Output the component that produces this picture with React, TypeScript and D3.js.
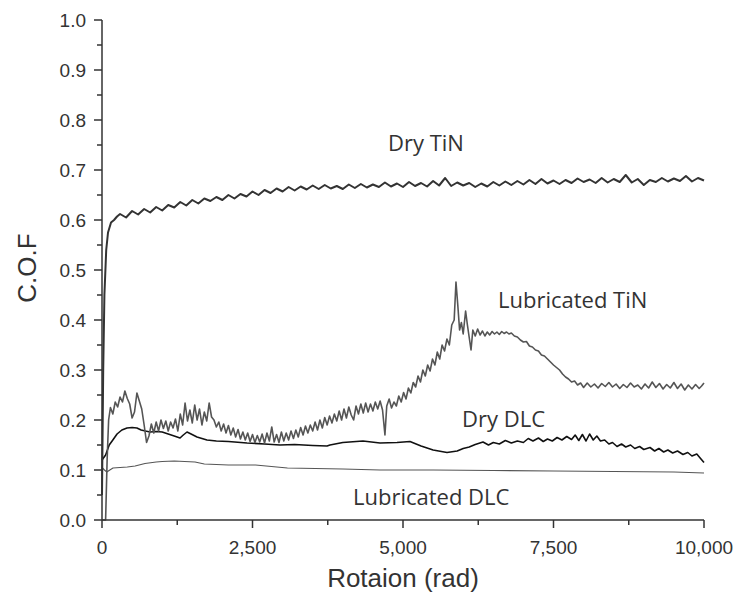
import React from "react";
import * as d3 from "d3";

const yTicks = [0, 0.1, 0.2, 0.3, 0.4, 0.5, 0.6, 0.7, 0.8, 0.9, 1.0];
const xTicks = [0, 2500, 5000, 7500, 10000];
const xMinorTicks = [1250, 3750, 6250, 8750];
const yMinorTicks = [0.05, 0.15, 0.25, 0.35, 0.45, 0.55, 0.65, 0.75, 0.85, 0.95];

const seriesNames = ["Dry TiN", "Lubricated TiN", "Dry DLC", "Lubricated DLC"];

const dryTiN: [number, number][] = [
  [0, 0.05], [20, 0.3], [40, 0.45], [70, 0.54], [100, 0.575], [150, 0.595], [200, 0.6], [250, 0.607],
  [300, 0.612], [400, 0.605], [500, 0.618], [600, 0.611], [700, 0.622], [800, 0.615], [900, 0.626],
  [1000, 0.619], [1100, 0.63], [1200, 0.625], [1300, 0.636], [1400, 0.629], [1500, 0.64], [1600, 0.633],
  [1700, 0.643], [1800, 0.638], [1900, 0.646], [2000, 0.64], [2100, 0.65], [2200, 0.643], [2300, 0.652],
  [2400, 0.647], [2500, 0.657], [2600, 0.65], [2700, 0.66], [2800, 0.654], [2900, 0.663], [3000, 0.657],
  [3100, 0.666], [3200, 0.659], [3300, 0.667], [3400, 0.661], [3500, 0.669], [3600, 0.662], [3700, 0.67],
  [3800, 0.663], [3900, 0.668], [4000, 0.662], [4100, 0.671], [4200, 0.664], [4300, 0.672], [4400, 0.665],
  [4500, 0.671], [4600, 0.666], [4700, 0.675], [4800, 0.667], [4900, 0.673], [5000, 0.666], [5100, 0.676],
  [5200, 0.668], [5300, 0.674], [5400, 0.667], [5500, 0.678], [5600, 0.669], [5700, 0.684], [5800, 0.668],
  [5900, 0.675], [6000, 0.669], [6100, 0.674], [6200, 0.666], [6300, 0.673], [6400, 0.667], [6500, 0.676],
  [6600, 0.669], [6700, 0.677], [6800, 0.67], [6900, 0.678], [7000, 0.671], [7100, 0.68], [7200, 0.672],
  [7300, 0.682], [7400, 0.673], [7500, 0.679], [7600, 0.672], [7700, 0.68], [7800, 0.674], [7900, 0.683],
  [8000, 0.676], [8100, 0.681], [8200, 0.674], [8300, 0.684], [8400, 0.675], [8500, 0.682], [8600, 0.676],
  [8700, 0.69], [8800, 0.675], [8900, 0.682], [9000, 0.67], [9100, 0.68], [9200, 0.676], [9300, 0.684],
  [9400, 0.677], [9500, 0.683], [9600, 0.678], [9700, 0.688], [9800, 0.677], [9900, 0.684], [10000, 0.679],
];

const lubTiN: [number, number][] = [
  [0, 0], [60, 0.0], [85, 0.12], [110, 0.2], [140, 0.225], [180, 0.212], [220, 0.236], [260, 0.226],
  [300, 0.246], [340, 0.236], [380, 0.258], [420, 0.243], [460, 0.232], [500, 0.204], [540, 0.216],
  [580, 0.254], [620, 0.238], [660, 0.222], [700, 0.19], [740, 0.155], [780, 0.168], [820, 0.192],
  [860, 0.174], [900, 0.196], [940, 0.178], [980, 0.2], [1020, 0.183], [1060, 0.198], [1100, 0.178],
  [1140, 0.196], [1180, 0.184], [1220, 0.202], [1260, 0.178], [1300, 0.212], [1340, 0.19], [1380, 0.234],
  [1420, 0.198], [1460, 0.22], [1500, 0.194], [1540, 0.23], [1580, 0.2], [1620, 0.222], [1660, 0.19],
  [1700, 0.216], [1740, 0.198], [1780, 0.234], [1820, 0.206], [1860, 0.2], [1900, 0.186], [1940, 0.196],
  [1980, 0.178], [2020, 0.192], [2060, 0.174], [2100, 0.189], [2140, 0.17], [2180, 0.184], [2220, 0.166],
  [2260, 0.181], [2300, 0.162], [2340, 0.176], [2380, 0.16], [2420, 0.174], [2460, 0.157], [2500, 0.171],
  [2540, 0.155], [2580, 0.169], [2620, 0.156], [2660, 0.172], [2700, 0.154], [2740, 0.174], [2780, 0.158],
  [2820, 0.186], [2860, 0.156], [2900, 0.171], [2940, 0.155], [2980, 0.176], [3020, 0.158], [3060, 0.174],
  [3100, 0.16], [3140, 0.178], [3180, 0.163], [3220, 0.18], [3260, 0.166], [3300, 0.185], [3340, 0.17],
  [3380, 0.188], [3420, 0.174], [3460, 0.19], [3500, 0.178], [3540, 0.196], [3580, 0.18], [3620, 0.2],
  [3660, 0.184], [3700, 0.205], [3740, 0.19], [3780, 0.208], [3820, 0.194], [3860, 0.212], [3900, 0.198],
  [3940, 0.218], [3980, 0.2], [4020, 0.222], [4060, 0.204], [4100, 0.226], [4140, 0.21], [4180, 0.2],
  [4220, 0.228], [4260, 0.212], [4300, 0.232], [4340, 0.214], [4380, 0.234], [4420, 0.216], [4460, 0.232],
  [4500, 0.218], [4540, 0.236], [4580, 0.222], [4620, 0.238], [4660, 0.22], [4700, 0.17], [4730, 0.228],
  [4770, 0.242], [4810, 0.224], [4850, 0.236], [4890, 0.228], [4930, 0.248], [4970, 0.236], [5010, 0.255],
  [5050, 0.242], [5090, 0.264], [5130, 0.254], [5170, 0.275], [5210, 0.266], [5250, 0.288], [5290, 0.276],
  [5330, 0.3], [5370, 0.288], [5410, 0.31], [5450, 0.298], [5490, 0.322], [5530, 0.31], [5570, 0.336],
  [5610, 0.322], [5650, 0.35], [5690, 0.338], [5730, 0.362], [5770, 0.35], [5810, 0.39], [5850, 0.4],
  [5880, 0.476], [5910, 0.43], [5940, 0.38], [5970, 0.395], [6000, 0.372], [6040, 0.418], [6070, 0.39],
  [6100, 0.365], [6130, 0.34], [6160, 0.38], [6200, 0.368], [6240, 0.382], [6280, 0.37], [6320, 0.378],
  [6360, 0.368], [6400, 0.376], [6440, 0.37], [6480, 0.377], [6520, 0.372], [6560, 0.376], [6600, 0.371],
  [6640, 0.377], [6680, 0.373], [6720, 0.376], [6760, 0.372], [6800, 0.374], [6850, 0.368], [6900, 0.366],
  [6950, 0.36], [7000, 0.356], [7050, 0.357], [7100, 0.348], [7150, 0.346], [7200, 0.34], [7250, 0.338],
  [7300, 0.33], [7350, 0.328], [7400, 0.322], [7450, 0.316], [7500, 0.31], [7550, 0.305], [7600, 0.3],
  [7650, 0.292], [7700, 0.286], [7750, 0.282], [7800, 0.276], [7850, 0.278], [7900, 0.27], [7950, 0.274],
  [8000, 0.265], [8060, 0.274], [8120, 0.266], [8180, 0.272], [8240, 0.264], [8300, 0.273], [8360, 0.267],
  [8420, 0.275], [8480, 0.266], [8540, 0.272], [8600, 0.263], [8660, 0.271], [8720, 0.265], [8780, 0.274],
  [8840, 0.266], [8900, 0.27], [8960, 0.262], [9020, 0.272], [9080, 0.264], [9140, 0.276], [9200, 0.265],
  [9260, 0.273], [9320, 0.262], [9380, 0.271], [9440, 0.264], [9500, 0.275], [9560, 0.263], [9620, 0.272],
  [9680, 0.26], [9740, 0.27], [9800, 0.262], [9860, 0.271], [9920, 0.263], [9960, 0.268], [10000, 0.274],
];

const dryDLC: [number, number][] = [
  [0, 0.12], [60, 0.13], [120, 0.15], [180, 0.16], [250, 0.172], [330, 0.18], [415, 0.184], [500, 0.185],
  [580, 0.184], [650, 0.18], [720, 0.178], [800, 0.176], [900, 0.177], [1000, 0.176], [1100, 0.172],
  [1200, 0.168], [1296, 0.164], [1350, 0.17], [1412, 0.176], [1480, 0.172], [1578, 0.166], [1660, 0.163],
  [1744, 0.16], [1900, 0.158], [2100, 0.157], [2409, 0.154], [2700, 0.152], [2957, 0.15], [3200, 0.151],
  [3500, 0.149], [3738, 0.148], [3787, 0.15], [4000, 0.155], [4335, 0.158], [4618, 0.154], [4900, 0.155],
  [5116, 0.157], [5300, 0.148], [5500, 0.14], [5731, 0.135], [5900, 0.138], [6000, 0.143], [6100, 0.146],
  [6200, 0.151], [6329, 0.156], [6420, 0.15], [6500, 0.155], [6600, 0.152], [6700, 0.159], [6800, 0.154],
  [6900, 0.158], [7000, 0.155], [7080, 0.163], [7159, 0.158], [7250, 0.164], [7330, 0.157], [7400, 0.162],
  [7480, 0.158], [7560, 0.165], [7640, 0.16], [7720, 0.167], [7800, 0.161], [7860, 0.17], [7920, 0.159],
  [7980, 0.171], [8040, 0.158], [8100, 0.172], [8160, 0.16], [8220, 0.168], [8280, 0.158], [8350, 0.16],
  [8420, 0.152], [8480, 0.155], [8555, 0.147], [8630, 0.152], [8700, 0.146], [8780, 0.15], [8850, 0.143],
  [8930, 0.147], [9000, 0.141], [9103, 0.145], [9180, 0.138], [9250, 0.143], [9330, 0.136], [9400, 0.14],
  [9480, 0.134], [9560, 0.138], [9651, 0.131], [9730, 0.135], [9800, 0.128], [9880, 0.132], [9950, 0.122],
  [10000, 0.115],
];

const lubDLC: [number, number][] = [
  [0, 0.105], [40, 0.1], [80, 0.096], [130, 0.1], [183, 0.104], [300, 0.105], [420, 0.106], [550, 0.108],
  [714, 0.113], [900, 0.116], [1000, 0.117], [1200, 0.118], [1545, 0.116], [1700, 0.112], [2100, 0.11],
  [2550, 0.11], [3080, 0.104], [4000, 0.102], [4618, 0.1], [5500, 0.1], [6500, 0.099], [7500, 0.098],
  [8500, 0.097], [9500, 0.096], [10000, 0.094],
];

const W = 741;
const H = 600;
const x0 = 102;
const x1 = 704;
const yTop = 20;
const yBot = 520;

export default function App() {
  const x = d3.scaleLinear().domain([0, 10000]).range([x0, x1]);
  const y = d3.scaleLinear().domain([0, 1]).range([yBot, yTop]);
  const line = d3
    .line<[number, number]>()
    .x((d) => x(d[0]))
    .y((d) => y(d[1]));
  const fmt = d3.format(",");
  const axisColor = "#333";
  const tickFont = "'Liberation Sans', Arial, sans-serif";
  const labelFont = "'Open Sans', sans-serif";

  const series = [
    { name: seriesNames[3], data: lubDLC, color: "#555", width: 1.1 },
    { name: seriesNames[2], data: dryDLC, color: "#111", width: 1.6 },
    { name: seriesNames[1], data: lubTiN, color: "#555", width: 1.6 },
    { name: seriesNames[0], data: dryTiN, color: "#333", width: 2 },
  ];

  const labels = [
    { text: seriesNames[0], x: 388, y: 151 },
    { text: seriesNames[1], x: 498, y: 308 },
    { text: seriesNames[2], x: 462, y: 427 },
    { text: seriesNames[3], x: 353, y: 505 },
  ];

  return (
    <svg width={W} height={H} style={{ display: "block", position: "absolute", left: 0, top: 0, background: "#fff" }}>
      <rect width={W} height={H} fill="#fff" />
      {series.map((s) => (
        <path key={s.name} d={line(s.data) || ""} fill="none" stroke={s.color} strokeWidth={s.width} strokeLinejoin="round" />
      ))}
      {/* axes */}
      <line x1={x0} x2={x0} y1={yTop} y2={yBot} stroke={axisColor} strokeWidth={1.5} />
      <line x1={x0} x2={x1} y1={yBot} y2={yBot} stroke={axisColor} strokeWidth={1.5} />
      {yTicks.map((t) => (
        <g key={"y" + t}>
          <line x1={x0 - 8} x2={x0} y1={y(t)} y2={y(t)} stroke={axisColor} strokeWidth={1.5} />
          <text x={86} y={y(t)} dy="0.35em" textAnchor="end" fontFamily={tickFont} fontSize={19} fill="#333">
            {t.toFixed(1)}
          </text>
        </g>
      ))}
      {yMinorTicks.map((t) => (
        <line key={"ym" + t} x1={x0 - 5} x2={x0} y1={y(t)} y2={y(t)} stroke={axisColor} strokeWidth={1.5} />
      ))}
      {xTicks.map((t) => (
        <g key={"x" + t}>
          <line x1={x(t)} x2={x(t)} y1={yBot} y2={yBot + 8} stroke={axisColor} strokeWidth={1.5} />
          <text x={x(t)} y={554} textAnchor="middle" fontFamily={tickFont} fontSize={19} fill="#333">
            {fmt(t)}
          </text>
        </g>
      ))}
      {xMinorTicks.map((t) => (
        <line key={"xm" + t} x1={x(t)} x2={x(t)} y1={yBot} y2={yBot + 5} stroke={axisColor} strokeWidth={1.5} />
      ))}
      <text x={(x0 + x1) / 2} y={587} textAnchor="middle" fontFamily={tickFont} fontSize={26} fill="#333">
        Rotaion (rad)
      </text>
      <text
        transform={`translate(36, 268) rotate(-90)`}
        textAnchor="middle"
        fontFamily={tickFont}
        fontSize={26}
        fill="#333"
      >
        C.O.F
      </text>
      {labels.map((l) => (
        <text key={l.text} x={l.x} y={l.y} fontFamily={labelFont} fontSize={22} fill="#333">
          {l.text}
        </text>
      ))}
    </svg>
  );
}
